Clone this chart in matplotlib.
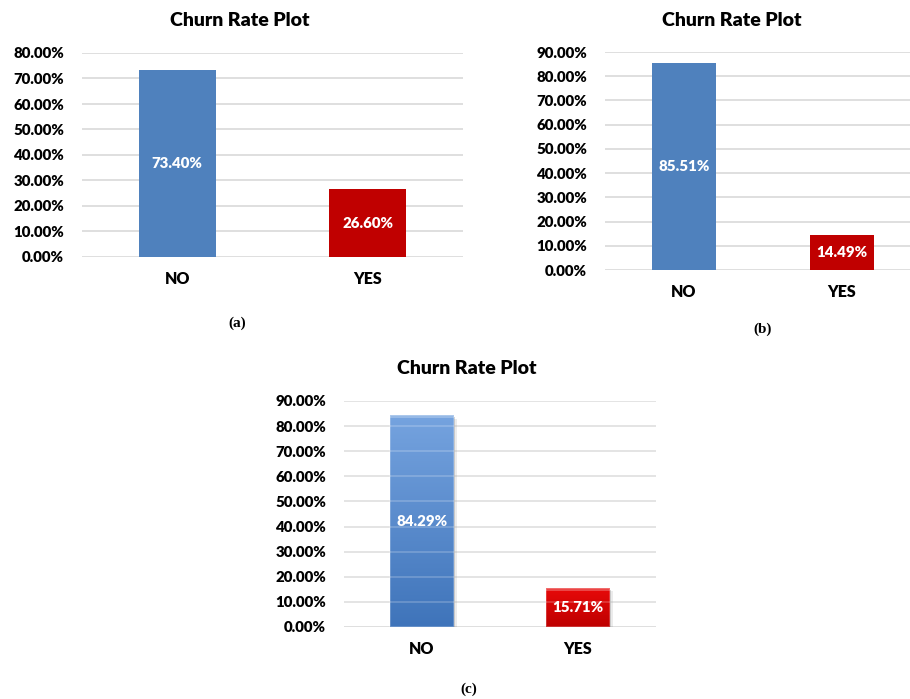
import matplotlib
matplotlib.use("Agg")
import matplotlib.pyplot as plt
import numpy as np
from matplotlib.ticker import FuncFormatter, MultipleLocator
from matplotlib.patches import Rectangle

categories = ["NO", "YES"]
values_a = [0.7340, 0.2660]
values_b = [0.8551, 0.1449]
values_c = [0.8429, 0.1571]
labels_a = ["73.40%", "26.60%"]
labels_b = ["85.51%", "14.49%"]
labels_c = ["84.29%", "15.71%"]
ymax_a = 0.8
ymax_b = 0.9
ymax_c = 0.9
title = "Churn Rate Plot"

W, H = 910, 699
fig = plt.figure(figsize=(W / 100, H / 100), dpi=100)
FONT = "Lato"
BLUE = "#4F81BD"
RED = "#C00000"
GRID = "#D9D9D9"


def fx(px):
    return px / W


def fy(py):
    return 1 - py / H


def make_axes(left, right, top, bottom):
    return fig.add_axes([fx(left), fy(bottom), fx(right) - fx(left), fy(top) - fy(bottom)])


def style(ax, ymax):
    ax.set_ylim(0, ymax)
    ax.set_xlim(-0.5, 1.5)
    ax.yaxis.set_major_locator(MultipleLocator(0.1))
    ax.yaxis.set_major_formatter(FuncFormatter(lambda v, p: f"{v*100:.2f}%"))
    for s in ax.spines.values():
        s.set_visible(False)
    ax.tick_params(axis="y", length=0, pad=13, labelsize=10.8)
    ax.tick_params(axis="x", length=0, pad=10, labelsize=11.5)
    for lab in ax.get_yticklabels() + ax.get_xticklabels():
        lab.set_fontfamily(FONT)
        lab.set_fontweight("heavy")
        lab.set_color("#000000")
    ax.grid(axis="y", color=GRID, linewidth=1.2)
    ax.set_axisbelow(True)
    ax.patch.set_alpha(0)


def flat_panel(ax, vals, labs, ymax):
    x = np.arange(len(categories))
    bars = ax.bar(x, vals, width=0.405, color=[BLUE, RED], zorder=2)
    ax.set_xticks(x)
    ax.set_xticklabels(categories)
    style(ax, ymax)
    for b, l in zip(bars, labs):
        ax.text(b.get_x() + b.get_width() / 2, b.get_height() / 2, l,
                ha="center", va="center", color="white", fontsize=10.8,
                fontfamily=FONT, fontweight="heavy", zorder=3)


def title_at(xc, yc):
    fig.text(fx(xc), fy(yc), title, ha="center", va="center", fontsize=14,
             fontfamily=FONT, fontweight="heavy")


def sub_at(xc, yc, s):
    fig.text(fx(xc), fy(yc), s, ha="center", va="center", fontsize=11,
             fontfamily="Liberation Serif", fontweight="bold")


# Panel (a)
ax_a = make_axes(82, 463, 53, 257)
flat_panel(ax_a, values_a, labels_a, ymax_a)
title_at(240, 21)
sub_at(237, 323, "(a)")

# Panel (b)
ax_b = make_axes(605, 921, 52, 270)
flat_panel(ax_b, values_b, labels_b, ymax_b)
title_at(732, 20)
sub_at(763, 329, "(b)")

# Panel (c) with gradient bars and shadow
ax_c = make_axes(344, 656, 401, 627)
x = np.arange(len(categories))
bars = ax_c.bar(x, values_c, width=0.405, color="none", zorder=2)
ax_c.set_xticks(x)
ax_c.set_xticklabels(categories)
style(ax_c, ymax_c)
grads = [("#75A3DF", "#3F74BA"), ("#E80A0A", "#BE0000")]
for b, (ctop, cbot), l in zip(bars, grads, labels_c):
    x0, w, h = b.get_x(), b.get_width(), b.get_height()
    # shadow
    sh = Rectangle((x0 + 0.01, -0.008), w, h, facecolor="#000000", alpha=0.2,
                   edgecolor="none", zorder=1.5)
    ax_c.add_patch(sh)
    sh2 = Rectangle((x0 + 0.02, -0.014), w, h, facecolor="#000000", alpha=0.08,
                    edgecolor="none", zorder=1.4)
    ax_c.add_patch(sh2)
    c1 = np.array(matplotlib.colors.to_rgb(ctop))
    c2 = np.array(matplotlib.colors.to_rgb(cbot))
    t = np.linspace(0, 1, 100)[:, None]
    img = (c1 * (1 - t) + c2 * t)[:, None, :]
    img = np.repeat(img, 2, axis=1)
    im = ax_c.imshow(img, extent=(x0, x0 + w, 0, h), aspect="auto", zorder=2,
                     interpolation="bilinear")
    clip = Rectangle((x0, 0), w, h, transform=ax_c.transData)
    im.set_clip_path(clip)
    # bevel edges
    ax_c.add_patch(Rectangle((x0, 0), w, h, facecolor="none", edgecolor="#ffffff",
                             linewidth=1.2, alpha=0.25, zorder=2.2))
    ax_c.add_patch(Rectangle((x0, h - 0.012), w, 0.012, facecolor="#ffffff",
                             alpha=0.25, edgecolor="none", zorder=2.2))
    ax_c.text(x0 + w / 2, h / 2, l, ha="center", va="center", color="white",
              fontsize=10.8, fontfamily=FONT, fontweight="heavy", zorder=3)
ax_c.set_xlim(-0.5, 1.5)
ax_c.set_ylim(0, ymax_c)
for v in np.arange(0.1, ymax_c + 0.001, 0.1):
    ax_c.axhline(v, color="white", alpha=0.22, linewidth=1.2, zorder=2.5)
title_at(467, 368)
sub_at(469, 689, "(c)")

fig.savefig("out.png", dpi=100, facecolor="white")
